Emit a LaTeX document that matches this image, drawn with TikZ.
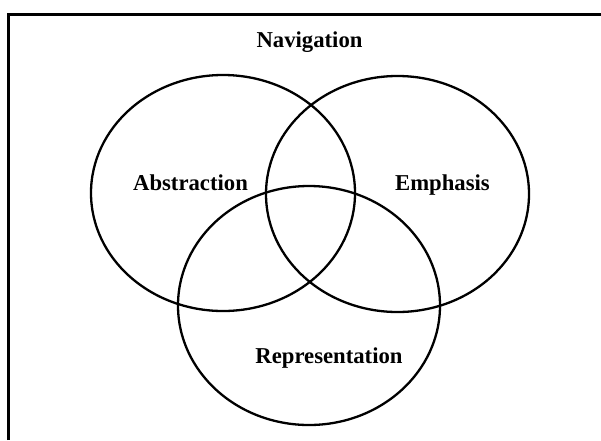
\documentclass[tikz,border=0pt]{standalone}
\usepackage{fontspec}
\setmainfont{Liberation Serif}
\begin{document}
\begin{tikzpicture}[x=1pt,y=-1pt,
  ring/.style={draw=black,line width=2.3pt},
  lbl/.style={font=\fontsize{22.7}{26}\selectfont\bfseries,inner sep=0pt,anchor=base}]
\useasboundingbox (0,0) rectangle (601,440);
\fill[white] (0,0) rectangle (601,440);
\draw[line width=3pt] (8.5,440) |- (601,14.5);
\draw[ring] (223,193) ellipse [x radius=132,y radius=118];
\draw[ring] (397.5,194) ellipse [x radius=131.5,y radius=118];
\draw[ring] (309,305.5) ellipse [x radius=131,y radius=119.5];
\node[lbl] (nav) at (309.5,47) {Navigation};
\node[lbl] (abs) at (190.5,190) {Abstraction};
\node[lbl] (emp) at (442.5,190) {Emphasis};
\node[lbl] (rep) at (329,363) {Representation};
\end{tikzpicture}
\end{document}
